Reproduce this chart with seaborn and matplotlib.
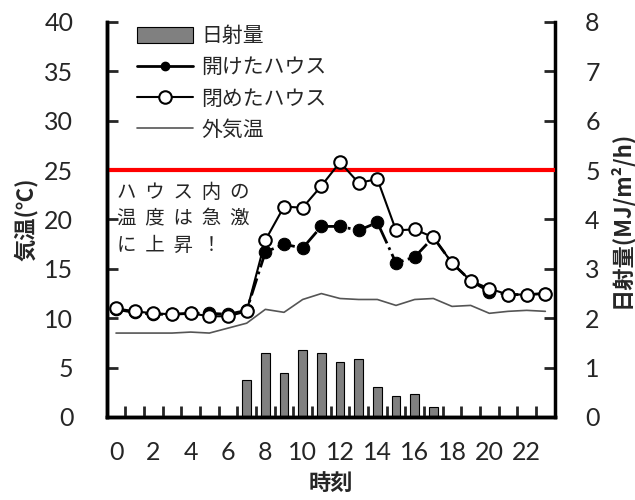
import numpy as np
import matplotlib
matplotlib.use("Agg")
import matplotlib.pyplot as plt
from matplotlib.patches import Patch
from matplotlib.lines import Line2D
import seaborn as sns

hours = list(range(24))
open_house = [10.9, 10.6, 10.4, 10.4, 10.5, 10.5, 10.4, 10.8, 16.7, 17.5, 17.1, 19.3,
              19.3, 18.9, 19.7, 15.6, 16.2, 18.2, 15.6, 13.8, 12.7, 12.4, 12.4, 12.5]
closed_house = [11.0, 10.7, 10.5, 10.4, 10.5, 10.2, 10.2, 10.7, 17.9, 21.3, 21.2, 23.4,
                25.8, 23.7, 24.1, 18.9, 19.0, 18.2, 15.6, 13.8, 13.0, 12.4, 12.4, 12.5]
outside = [8.5, 8.5, 8.5, 8.5, 8.6, 8.5, 9.0, 9.5, 10.9, 10.6, 11.9, 12.5,
           12.0, 11.9, 11.9, 11.3, 11.9, 12.0, 11.2, 11.3, 10.5, 10.7, 10.8, 10.7]
radiation = [0, 0, 0, 0, 0, 0, 0, 0.75, 1.29, 0.90, 1.36, 1.29,
             1.11, 1.17, 0.60, 0.43, 0.47, 0.21, 0, 0, 0, 0, 0, 0]
threshold = 25
xtick_labels = [str(h) for h in range(0, 24, 2)]

sns.set_style("ticks")
plt.rcParams["font.family"] = ["Lato", "Noto Sans CJK JP", "DejaVu Sans"]
jp = ["Noto Sans CJK JP", "DejaVu Sans"]

fig = plt.figure(figsize=(6.35, 5), dpi=100)
ax = fig.add_axes([0.168, 0.166, 0.7055, 0.79])
ax2 = ax.twinx()

sns.barplot(x=hours, y=radiation, ax=ax2, color="#808080", edgecolor="black",
            linewidth=0.8, width=0.45, saturation=1)

ax.axhline(threshold, color="#ff0000", lw=3, zorder=1)
sns.lineplot(x=hours, y=outside, ax=ax, color="#555555", lw=1.2)
sns.lineplot(x=hours, y=open_house, ax=ax, color="black", lw=2, linestyle="-.",
             marker="o", markersize=9, markerfacecolor="black",
             markeredgecolor="black")
sns.lineplot(x=hours, y=closed_house, ax=ax, color="black", lw=1.5, marker="o",
             markersize=9, markerfacecolor="white", markeredgecolor="black",
             markeredgewidth=1.5)

ax.set_zorder(ax2.get_zorder() + 1)
ax.patch.set_visible(False)

ax.set_xlim(-0.5, 23.5)
ax.set_ylim(0, 40)
ax2.set_ylim(0, 8)
ax.set_yticks(range(0, 41, 5))
ax2.set_yticks(range(0, 9))
ax.set_xticks(range(0, 24, 2))
ax.set_xticklabels(xtick_labels)
ax.set_xticks(np.arange(0.5, 23, 1), minor=True)

ax.tick_params(axis="x", which="major", length=0, pad=17, labelsize=18)
ax.tick_params(axis="x", which="minor", direction="in", length=8, width=2)
ax.tick_params(axis="y", direction="in", length=8, width=2, pad=24, labelsize=18)
ax2.tick_params(axis="y", direction="in", length=8, width=2, pad=22, labelsize=18)

for a in (ax, ax2):
    for s in a.spines.values():
        s.set_linewidth(2.5)
        s.set_color("black")
    a.spines["top"].set_visible(False)
ax.spines["right"].set_visible(False)

ax.set_xlabel("時刻", family=jp, fontsize=16, fontweight="bold")
ax.set_ylabel("気温(℃)", family=jp, fontsize=16, fontweight="bold")
ax2.set_ylabel("日射量(MJ/m²/h)", family=jp, fontsize=16, fontweight="bold")
ax.xaxis.set_label_coords(0.5, -0.14)
ax.yaxis.set_label_coords(-0.153, 0.5)
ax2.yaxis.set_label_coords(1.119, 0.5)

ax.text(0.022, 0.595, "ハ  ウ  ス  内  の\n温  度  は  急  激\nに  上  昇  ！",
        transform=ax.transAxes, family=jp, fontsize=14, va="top", ha="left",
        linespacing=1.35)

handles = [
    Patch(facecolor="#808080", edgecolor="black", lw=0.8),
    Line2D([], [], color="black", lw=2, marker="o", markersize=6,
           markerfacecolor="black"),
    Line2D([], [], color="black", lw=1.5, marker="o", markersize=9,
           markerfacecolor="white", markeredgewidth=1.5),
    Line2D([], [], color="#555555", lw=1.2),
]
labels = ["日射量", "開けたハウス", "閉めたハウス", "外気温"]
ax.legend(handles, labels, loc="upper left", bbox_to_anchor=(0.025, 1.04),
          frameon=False, prop={"family": jp, "size": 15}, handlelength=2.7,
          handleheight=0.8, handletextpad=0.4, labelspacing=0.45)

fig.savefig("out.png", dpi=100)
